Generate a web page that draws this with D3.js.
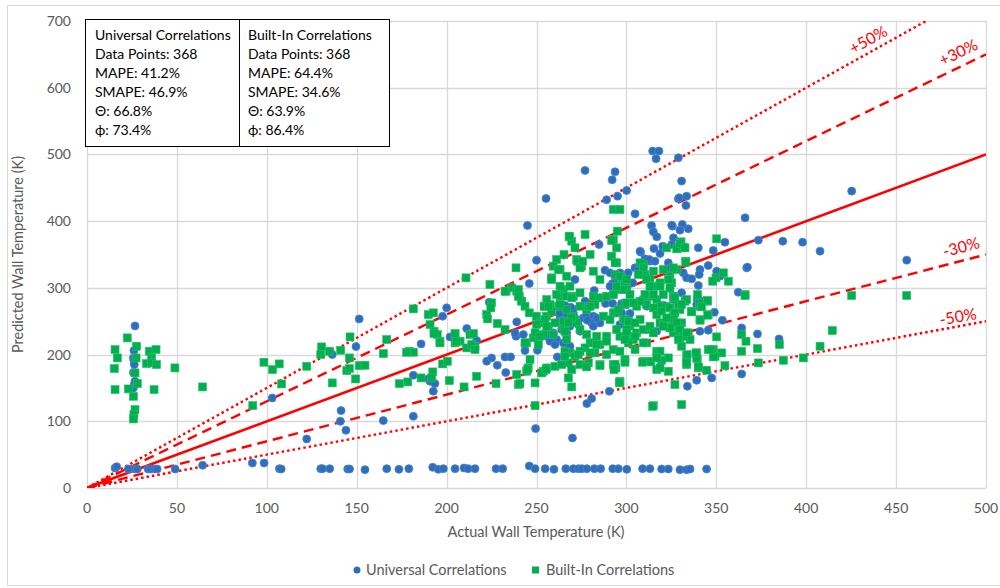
<!DOCTYPE html>
<html>
<head>
<meta charset="utf-8">
<script src="https://cdn.jsdelivr.net/npm/d3@7"></script>
<style>
  body { margin: 0; background: #fff; }
  text { font-family: Lato, "Open Sans", sans-serif; }
</style>
</head>
<body>
<svg id="chart" width="1000" height="588"></svg>
<script>
// ---- data (K) ----
var universalPoints = [
  [15.6,30],[16.5,32],[23,28.5],[26.7,28.5],[28,28.5],[34,28.5],[35.4,28.5],[37.8,28.5],[39,28.5],[49,28.5],
  [64.3,34],[92,37.5],[98.5,37.5],[107,29],[108,28.5],[130,29],[131,29],[135,29],[145,28.5],[146,28.5],
  [154.6,27.5],[166.7,29],[173.5,28],[179,29],[192.3,31],[195.4,28],[198.2,29],[204.7,29],[209.7,30],[212,29],
  [215.8,29],[227.5,29],[231.2,29],[246,33],[249.2,29],[254.8,29],[259.7,28],[266.3,29],[270.5,29],[273.3,29],
  [275.2,29],[278,29],[282.2,29],[285.7,29],[292.4,29],[295.5,29],[300.2,28],[309,29],[313.1,29],[319.6,28.5],
  [323.3,28.5],[329.8,27.5],[333.5,27.5],[335.4,28.5],[344.6,28.5],
  [26.7,243],[26.1,206],[25.8,195],[26.1,191],[26.3,185],[25.8,173],[26.7,160],[26.3,155],[25.8,150],
  [103,135],[136.4,200],[149.6,212],[151.4,253.5],[141.3,116],[140.9,100],[144,86.5],[122.2,73.5],
  [164.8,101],[181.5,107.5],[181.5,169],[189.8,163.5],[190.8,160],[193.5,156.5],[192.6,145],[185.8,216],
  [201.9,226.5],[216.7,221],[222.3,190],[225,195],[228.2,184],[232.9,173],[232.5,196.5],[235.6,196.5],
  [249.5,89],[270,75],[278,126.5],[280.7,134],[290.5,145],[243.6,206],[250.5,206.5],[261.6,196.5],[268.1,210],
  [200,270],[197.8,257.5],[211.2,239],[223.7,278.5],[239,249],[246,306.5],[245,393.5],[250,341.5],[255.3,434],
  [277,476],[284.8,365],[271.4,312.5],[289,432],[292.1,462],[293.7,474],[295.1,437.5],[300.1,446],[304.8,411],
  [314.6,505],[318.1,505],[316.5,493.5],[328.9,433.5],[314,393.5],[315,384],[316.9,376.5],[325.6,392.5],
  [326.2,375],[307.9,353.5],[315.3,359],[318.7,351.5],[310.3,343.5],[313.1,340],[296.4,322.5],[298.3,315],
  [288.1,326.5],[292.3,306.5],[304.8,330],[303.5,307.5],[317.7,304],[324.2,299],[326.1,287.5],[320.5,274],
  [270.5,267.5],[278,255],[281.6,257.5],[285.3,247.5],[280.7,247.5],[288.4,276.5],[292.3,276.5],[297.3,276.5],
  [263,259],[267.7,247.5],[273.2,245],[255.6,227.5],[259.4,232.5],[261.2,222.5],[264.9,217.5],[268.6,212.5],
  [238.6,227.5],[242.7,230],[243.6,215],[309,282.5],[311.3,272.5],
  [328.9,495],[330.7,460],[329.4,435],[333.5,437.5],[333.1,423.5],[325.2,394],[331.1,395],[329.8,386.5],
  [334.4,388.5],[325.2,365],[320.2,362.5],[307.6,355],[340,360],[348.3,356],[354.8,368.5],[366,405],
  [366.9,330],[312.7,342.5],[315.9,340],[306.6,327.5],[323.3,337.5],[324.2,330],[340.9,327.5],[340.5,320],
  [345.5,333.5],[331.6,322.5],[333.5,315],[336.3,313.5],[350.2,325],[352,317.5],[340,303.5],[330.7,292.5],
  [326.1,285],[342.8,280],[339.1,275],[362.2,293.5],
  [425.3,445],[373.4,371.5],[387,370],[398,368.5],[407.7,355],[455.9,341.5],[367.3,331],[339.6,283.5],
  [348.9,263.5],[353.4,251.5],[340.9,235],[345.5,236.5],[364.1,240],[372.9,231],[384.9,223.5],[364.1,171],
  [347.4,165],[339.1,161.5],[333.9,152.5],
  [297.4,262.5],[302,261.5],[301.1,248.5],[296.4,245],[316.8,235],[326.1,282.5],[339.5,282.5],
  [238.1,232.5],[255.7,235],[257.5,220],[260.3,215],[264,237.5],[266.8,232.5],[268.6,242.5],[274.2,235],
  [263,252.5],[266.8,260],[271.4,255],[276,255],[277.5,257.5],[283.5,255],[281.6,242.5],[278.3,251.5],
  [299.8,275],[263,262.5],[265.8,267.5],
  [290.9,322.5],[293.7,317.5],[282.1,296],[290.9,302.5],[295.5,312.5],[301,322.5],[292.7,290],[297.4,275],
  [285.3,285],[277,280],[265.8,273.5],[269,271],[241.7,281.5]
];

var builtInPoints = [
  [22.4,225],[15.6,207.5],[16.9,195],[15.2,179],[15.6,147.5],[27.6,212.5],[27.3,195],[26.7,172.5],[28,156.5],
  [23,148.5],[25.8,137.5],[26.7,117.5],[26.1,110],[25.8,103.5],[34.7,205],[38.4,207.5],[35.9,195],[33.1,186.5],
  [35.9,187.5],[38.7,185],[37.3,147.5],[48.9,180],[64.3,151.5],[92.2,123.5],[98.4,188.5],[103.2,177.5],
  [106.9,186],[108.2,156],[122.2,182.5],[130.5,211.5],[130,200],[134.8,205],[141.1,206.5],[146.3,226.5],
  [145.9,195],[144.5,176],[145.9,179],[151.4,183.5],[154.6,184],[149.4,163.5],[136.4,157.5],
  [181.5,268.5],[166.7,222.5],[189.8,260],[192.6,262.5],[190.8,245],[193,235],[194.8,230],[196.3,220],
  [204.7,230],[204.7,217.5],[207.5,220],[213,230],[215.8,212.5],[210.8,315],[224.1,305],[222.3,260],
  [222.8,253.5],[225,277.5],[224.6,270],[228.2,246.5],[232.5,237.5],[233.1,295],[236.2,300],[239,295],
  [240.5,287.5],[241.7,280],[243.6,272.5],[246,262.5],[238.6,330],[250,257.5],[251.9,247.5],[254.7,272.5],
  [255.6,257.5],[256.5,240],[259.3,230],[253.8,230],[248.2,225],[244.5,217.5],[251,215],
  [258.4,315],[261.2,342.5],[259.3,332.5],[263.1,327.5],[265.3,350],[268.1,376.5],[269.6,370],[271.4,360],
  [272.3,342.5],[274.2,337.5],[275.1,332.5],[277,380],[279.8,350],[281.6,325],[285.3,312.5],[292.7,372.5],
  [294.9,385],[291.8,347.5],[294.6,337.5],[293.7,320],[297.4,315],[299.2,307.5],[300.2,297.5],[296.4,297.5],
  [270.5,287.5],[266.8,317.5],[264.9,297.5],[268.6,302.5],[263.1,287.5],[262.1,272.5],[266.8,267.5],
  [270.5,257.5],[274.2,272.5],[277.9,267.5],[281.6,287.5],[285.3,285],[289,287.5],[292.7,417.5],[296.4,417.5],
  [309.4,335],[310.3,320],[313.1,315],[315,302.5],[318.7,307.5],[322.4,360],[324.2,317.5],[325.2,307.5],
  [328,327.5],[313.1,287.5],[316.9,282.5],[318.7,272.5],[322.4,272.5],[326.1,287.5],
  [264.9,242.5],[272.3,247.5],[287.2,257.5],[292.7,262.5],[298.3,252.5],[302,242.5],[305.7,232.5],
  [313.1,237.5],[318.7,247.5],[326.1,257.5],[329.8,267.5],[266.8,222.5],[281.6,217.5],[289,227.5],
  [296.4,227.5],[303.8,222.5],[311.3,217.5],
  [254.2,272.5],[257.5,275],[258.4,265],[254.7,252.5],[250.1,245],[249.2,232.5],[251.9,227.5],[255.7,242.5],
  [260.3,247.5],[264.9,250],[269.6,255],[267.7,247.5],[265.8,235],[274.2,237.5],[277.9,230],[279.8,217.5],
  [277,210],[268.6,202.5],[274.2,205],[282.5,202.5],[285.3,215],[289,220],[292.7,207.5],[296.4,205],
  [299.2,192.5],[294.2,180],[292.7,185],[296.4,157.5],[285.3,185],[278.8,187.5],[274.2,185],[271.4,197.5],
  [265.8,205],[267.7,187.5],[269.6,177.5],[267.7,165],[269.6,151.5],[260.3,182.5],[255.7,180],[253.8,175],
  [246.4,192.5],[245.4,180],[244.5,175],[239.9,155],[249.2,157.5],[249.2,123.5],[243.6,217.5],[294.6,237.5],
  [293.7,262.5],[290.9,252.5],[282.5,275],[278.8,272.5],[283.5,227.5],[283.5,215],[300.2,237.5],[301.1,217.5],
  [299.2,252.5],[295.5,267.5],[299.2,275],
  [300.2,277.5],[305.7,272.5],[311.3,275],[315,270],[316.9,260],[319.6,265],[324.2,270],[327,262.5],
  [328.9,275],[332.6,280],[336.3,265],[340.9,272.5],[345,280],[345.5,260],[340.9,252.5],[307.6,252.5],
  [301.1,250],[304.8,247.5],[309.4,237.5],[313.1,242.5],[315,232.5],[320.5,245],[326.1,252.5],[330.7,247.5],
  [334.4,232.5],[329.8,230],[326.1,232.5],[324.2,242.5],[328.9,240],[335.4,222.5],[329.8,225],[300.2,232.5],
  [304.8,227.5],[309.4,217.5],[299.2,222.5],[304.8,207.5],[316.9,205],[318.7,205],[323.3,195],[319.6,191.5],
  [313.1,190],[309.4,190],[299.2,188.5],[333.5,198.5],[339.1,202.5],[345.5,207.5],[348.3,207.5],[353,202.5],
  [350.2,226.5],[364.1,230],[366.5,220],[364.1,205],[339.4,193.5],[333.5,185],[340,180],[344.6,176.5],
  [349.3,197.5],[354.8,183.5],[316.9,177.5],[323.3,175],[327,155],[296.4,160],[315,123.5],[330.7,125],
  [350.2,373.5],[330.4,369],[328.4,359],[331.7,361],[333,340],[349.8,315],[348,310],[356.7,310],[353.9,322.5],
  [339.6,290],[345,281],[366,290],[307.6,337.5],[309.4,330],[306.6,320],[311.3,312.5],[315,325],[320.5,327.5],
  [326.1,330],[323.3,312.5],[318.7,302.5],[313.1,302.5],[315,290],[320.5,290],[324.2,300],[327,285],
  [333.5,282.5],[330.7,275],[310.3,290],[307.6,280],[303.8,277.5],[298.3,297.5],[302,290],[296.4,317.5],
  [268.3,377.5],[291.8,371],[294.6,360],[262.1,327.5],[272.7,340],[274.2,330],[275.7,340],[232.5,295],
  [239.9,297.5],[239.9,287.5],[258.4,312.5],[263.1,302.5],[261.2,290],[255.7,282.5],[256.6,272.5],[263.1,275],
  [266.8,287.5],[269.6,285],[274.2,292.5],[279.8,272.5],[293.7,337.5],[294.6,302.5],[292.7,290],[300.2,312.5],
  [328,358.5],[329.8,366.5],[332.6,360],[333.1,338.5],[366,288.5],[425.3,288.5],[455.9,288.5],[414.5,236],
  [407.7,212.5],[398.4,195],[387.3,191.5],[373.4,187.5],[372.9,209],[385.1,215],[348.3,196.5],[347,207.5],
  [340,181.5],[339.1,195],[338.7,202.5],[333.5,187.5],[333.8,200],[341,251.5],[340.6,276.5],[336.3,264],
  [345.2,259],[341.8,271.5],[328,247.5],[329.8,237.5],[331.7,227.5],[333.5,232.5],[328.9,222.5],[330.7,212.5],
  [324.2,240],[322.4,255],[320.5,242.5],[318.7,180],
  [164.8,201.5],[179.3,205],[181.5,203.5],[177.8,203.5],[173.7,156.5],[178.4,159],[185.8,165],[192.3,174],
  [191.7,165],[197.8,186],[200.4,190],[201.5,161],[209.7,151.5],[216.7,167.5],[227.5,156.5],[239,170],
  [240.8,156.5],[245.1,177.5],[252.9,172.5],[255.3,177.5],[193,231.5],[196.3,217.5],[204.7,231.5],
  [205.6,220],[211.2,210],[214,215],[215.8,207.5],[214.9,231.5],[277.9,181.5],[285.3,183.5],[293.7,185],
  [293.1,177.5],[296.1,158.5],[309,188.5],[313.5,189],[316.9,195],[314.6,122.5],[264,185],[265.8,197.5],
  [273.2,200],[279.8,202.5],[289,200]
];

var seriesNames = ["Universal Correlations", "Built-In Correlations"];
var statsUniversal = ["Universal Correlations", "Data Points: 368", "MAPE: 41.2%", "SMAPE: 46.9%", "\u0398: 66.8%", "\u03d5: 73.4%"];
var statsBuiltIn = ["Built-In Correlations", "Data Points: 368", "MAPE: 64.4%", "SMAPE: 34.6%", "\u0398: 63.9%", "\u03d5: 86.4%"];
var xTicks = [0, 50, 100, 150, 200, 250, 300, 350, 400, 450, 500];
var yTicks = [0, 100, 200, 300, 400, 500, 600, 700];
// error bands: ratio of predicted / actual
var bandRatios = [1, 1.3, 0.7, 1.5, 0.5];
var bandLabels = ["", "+30%", "-30%", "+50%", "-50%"];

var margin = {top: 21, right: 14, bottom: 100, left: 87};
var svg = d3.select("#chart");
var W = +svg.attr("width"), H = +svg.attr("height");

// outer chart frame
svg.append("rect")
  .attr("x", 7.5).attr("y", 5.5)
  .attr("width", W).attr("height", H - 8)
  .attr("fill", "none").attr("stroke", "#d9d9d9");

var x = d3.scaleLinear().domain([0, 500]).range([margin.left, W - margin.right]);
var y = d3.scaleLinear().domain([0, 700]).range([H - margin.bottom, margin.top]);

// gridlines
svg.append("g").selectAll("line").data(yTicks).enter().append("line")
  .attr("x1", x(0)).attr("x2", x(500))
  .attr("y1", d => Math.round(y(d)) + 0.5).attr("y2", d => Math.round(y(d)) + 0.5)
  .attr("stroke", "#d9d9d9").attr("stroke-width", 1.3);
svg.append("g").selectAll("line").data(xTicks).enter().append("line")
  .attr("y1", y(0)).attr("y2", y(700))
  .attr("x1", d => Math.round(x(d)) + 0.5).attr("x2", d => Math.round(x(d)) + 0.5)
  .attr("stroke", "#d9d9d9").attr("stroke-width", 1.3);

// tick labels
svg.append("g").selectAll("text").data(yTicks).enter().append("text")
  .attr("x", x(0) - 16).attr("y", d => y(d) + 5)
  .attr("text-anchor", "end").attr("font-size", "14px").attr("fill", "#595959")
  .text(d => d);
svg.append("g").selectAll("text").data(xTicks).enter().append("text")
  .attr("x", d => x(d)).attr("y", y(0) + 25)
  .attr("text-anchor", "middle").attr("font-size", "14px").attr("fill", "#595959")
  .text(d => d);

// axis titles
svg.append("text")
  .attr("transform", "translate(23," + ((y(0) + y(700)) / 2) + ") rotate(-90)")
  .attr("text-anchor", "middle").attr("font-size", "14.5px").attr("fill", "#595959")
  .text("Predicted Wall Temperature (K)");
svg.append("text")
  .attr("x", 536).attr("y", 537)
  .attr("text-anchor", "middle").attr("font-size", "14.5px").attr("fill", "#595959")
  .text("Actual Wall Temperature (K)");

// reference lines, clipped to the plot area
svg.append("clipPath").attr("id", "plotclip").append("rect")
  .attr("x", x(0)).attr("y", y(700)).attr("width", x(500) - x(0)).attr("height", y(0) - y(700));
var lines = svg.append("g").attr("clip-path", "url(#plotclip)");
var dashFor = function(r) {
  if (r === 1) return null;
  if (r === 1.3 || r === 0.7) return "10,6";
  return "2.5,3";
};
bandRatios.forEach(function(r) {
  lines.append("line")
    .attr("x1", x(0)).attr("y1", y(0))
    .attr("x2", x(500)).attr("y2", y(500 * r))
    .attr("stroke", "#ff0000")
    .attr("stroke-width", r === 1 ? 2.6 : 2.4)
    .attr("stroke-dasharray", dashFor(r));
});

// band labels, rotated along their line
var labelAt = {"+50%": 436, "+30%": 486, "-30%": 487, "-50%": 485};
var labelLift = {"+50%": 7, "+30%": 9, "-30%": 8, "-50%": 4};
bandRatios.forEach(function(r, i) {
  var lab = bandLabels[i];
  if (!lab) return;
  var xv = labelAt[lab];
  var px = x(xv), py = y(xv * r) - labelLift[lab];
  var ang = Math.atan2(y(0) - y(r * 100), x(100) - x(0)) * 180 / Math.PI;
  svg.append("text")
    .attr("transform", "translate(" + px + "," + py + ") rotate(" + (-ang) + ")")
    .attr("text-anchor", "middle").attr("font-size", "16px").attr("fill", "#ff0000")
    .text(lab);
});

// scatter series
svg.append("g").selectAll("circle").data(universalPoints).enter().append("circle")
  .attr("cx", d => x(d[0])).attr("cy", d => y(d[1])).attr("r", 4)
  .attr("fill", "#2e6fbd").attr("stroke", "#4a84cc").attr("stroke-width", 0.8);
svg.append("g").selectAll("rect").data(builtInPoints).enter().append("rect")
  .attr("x", d => x(d[0]) - 4).attr("y", d => y(d[1]) - 4)
  .attr("width", 8).attr("height", 8)
  .attr("fill", "#00b050").attr("stroke", "#2cbf68").attr("stroke-width", 0.6);

// statistics box
var box = svg.append("g");
box.append("rect").attr("x", 85.5).attr("y", 19.5).attr("width", 304).attr("height", 127)
  .attr("fill", "#fff").attr("stroke", "#000").attr("stroke-width", 1);
box.append("line").attr("x1", 239.5).attr("x2", 239.5).attr("y1", 19.5).attr("y2", 146.5)
  .attr("stroke", "#000");
[statsUniversal, statsBuiltIn].forEach(function(lst, j) {
  box.selectAll(null).data(lst).enter().append("text")
    .attr("x", j === 0 ? 95 : 248).attr("y", (d, i) => 39.5 + i * 19.1)
    .attr("font-size", "14px").attr("fill", "#000")
    .text(d => d);
});

// legend
var legend = svg.append("g");
legend.append("circle").attr("cx", 357).attr("cy", 570).attr("r", 3.5).attr("fill", "#2e6fbd");
legend.append("text").attr("x", 366).attr("y", 575).attr("font-size", "14.5px").attr("fill", "#595959")
  .text(seriesNames[0]);
legend.append("rect").attr("x", 532).attr("y", 566.5).attr("width", 7).attr("height", 7).attr("fill", "#00b050");
legend.append("text").attr("x", 546).attr("y", 575).attr("font-size", "14.5px").attr("fill", "#595959")
  .text(seriesNames[1]);
</script>
</body>
</html>
